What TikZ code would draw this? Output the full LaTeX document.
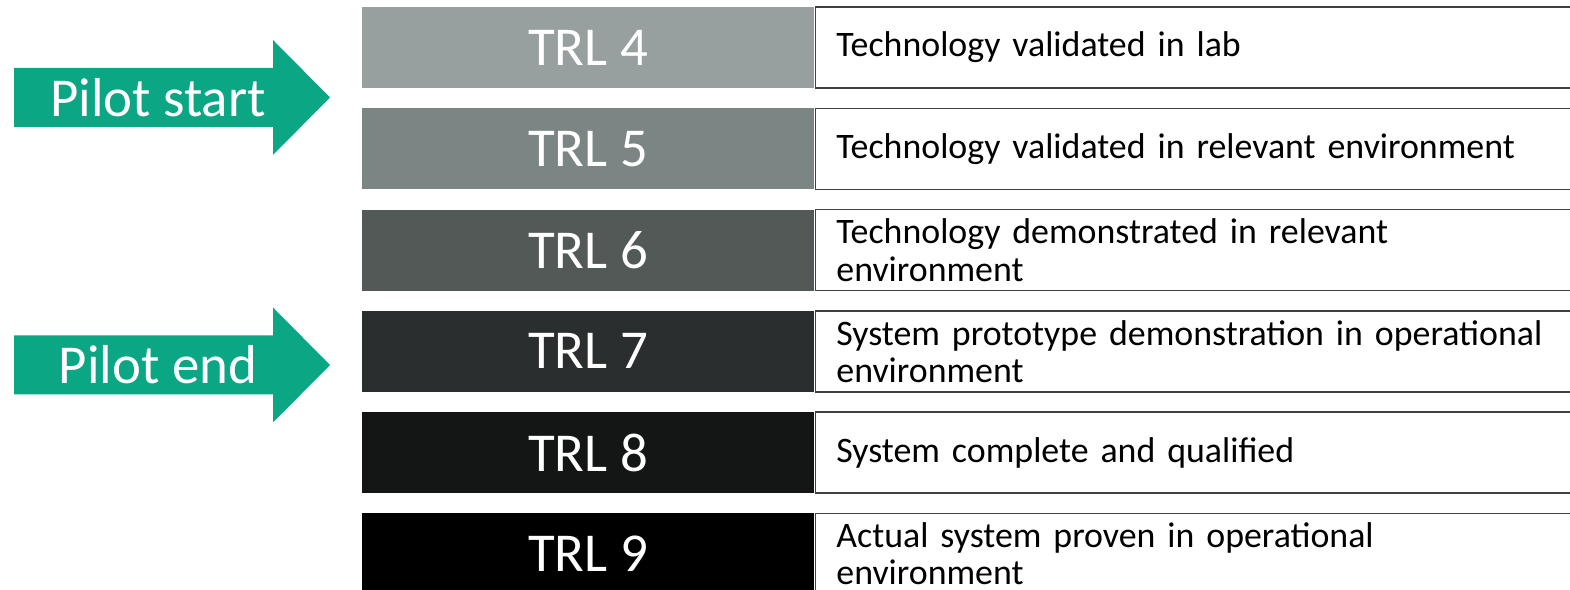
\documentclass[tikz,border=0pt]{standalone}
\usepackage{fontspec}
\setmainfont{Carlito}
\usetikzlibrary{positioning}

\definecolor{trlfour}{HTML}{979F9F}
\definecolor{trlfive}{HTML}{7B8684}
\definecolor{trlsix}{HTML}{525957}
\definecolor{trlseven}{HTML}{2A2E2F}
\definecolor{trleight}{HTML}{131615}
\definecolor{trlnine}{HTML}{000000}
\definecolor{pilotgreen}{HTML}{0BA684}

\tikzset{
  trl/.style={fill=#1, text=white, minimum width=4.52cm, minimum height=0.81cm,
    inner sep=0pt, font=\fontsize{15.6}{18}\selectfont},
  desc/.style={draw=black!75, line width=0.4pt, fill=white, minimum height=0.81cm,
    text width=7.3cm, inner xsep=0.21cm, inner ysep=0pt, align=left,
    font=\fontsize{10.2}{10.6}\selectfont},
  pilot/.style={fill=pilotgreen},
  pilottext/.style={text=white, inner sep=0pt, font=\fontsize{15.6}{18}\selectfont}
}

\begin{document}
\begin{tikzpicture}
\useasboundingbox (0,0) rectangle (15.70,-5.90);
% readiness levels
\foreach \n/\col/\txt [count=\i from 0] in {
    4/trlfour/{Technology validated in lab},
    5/trlfive/{Technology validated in relevant environment},
    6/trlsix/{Technology demonstrated in relevant\\environment},
    7/trlseven/{System prototype demonstration in operational\\environment},
    8/trleight/{System complete and qualified},
    9/trlnine/{Actual system proven in operational\\environment}}
{
  \node[trl=\col] (trl\n) at (5.88,{-0.475-1.013*\i}) {TRL \n};
  \node[desc, right=0pt of trl\n] (desc\n) {\txt};
}
% pilot arrows
\foreach \y/\lab/\name in {-0.975/Pilot start/pilotstart, -3.65/Pilot end/pilotend}
{
  \fill[pilot] (0.14,\y+0.295) -- (2.73,\y+0.295) -- (2.73,\y+0.575) -- (3.30,\y)
    -- (2.73,\y-0.575) -- (2.73,\y-0.295) -- (0.14,\y-0.295) -- cycle;
  \node[pilottext] (\name) at (1.58,\y) {\lab};
}
\end{tikzpicture}
\end{document}
